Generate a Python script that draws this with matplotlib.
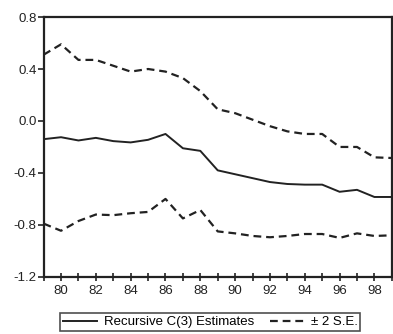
import matplotlib
matplotlib.use('Agg')
import matplotlib.pyplot as plt
from matplotlib.ticker import MultipleLocator, FixedLocator

plt.rcParams['font.family'] = ['Liberation Sans', 'DejaVu Sans']

# 年份 (19xx)
years = list(range(79, 100))
# 递归估计值
coef = [-0.14, -0.125, -0.15, -0.13, -0.155, -0.165, -0.145, -0.10, -0.21, -0.23,
        -0.38, -0.41, -0.44, -0.47, -0.485, -0.49, -0.49, -0.545, -0.53, -0.585, -0.585]
# 上界 +2 S.E.
upper = [0.51, 0.59, 0.47, 0.47, 0.425, 0.38, 0.40, 0.38, 0.33, 0.23,
         0.09, 0.06, 0.01, -0.04, -0.08, -0.10, -0.10, -0.20, -0.20, -0.28, -0.285]
# 下界 -2 S.E.
lower = [-0.79, -0.845, -0.77, -0.72, -0.725, -0.71, -0.70, -0.60, -0.75, -0.685,
         -0.85, -0.865, -0.885, -0.895, -0.885, -0.87, -0.87, -0.90, -0.865, -0.885, -0.88]

fig = plt.figure(figsize=(3.93, 3.34), dpi=100)
ax = fig.add_axes([0.111, 0.171, 0.886, 0.778])

ln1, = ax.plot(years, coef, color='#222222', lw=1.4, label='Recursive C(3) Estimates')
ln2, = ax.plot(years, upper, color='#222222', lw=1.6, dashes=(3.5, 2.2), label='± 2 S.E.')
ax.plot(years, lower, color='#222222', lw=1.6, dashes=(3.5, 2.2))

ax.set_xlim(79, 99)
ax.set_ylim(-1.2, 0.8)
ax.yaxis.set_major_locator(FixedLocator([-1.2, -0.8, -0.4, 0.0, 0.4, 0.8]))
ax.set_yticklabels(['-1.2', '-0.8', '-0.4', '0.0', '0.4', '0.8'])
ax.xaxis.set_major_locator(FixedLocator(list(range(80, 99, 2))))
ax.xaxis.set_minor_locator(MultipleLocator(1))

for s in ax.spines.values():
    s.set_linewidth(1.6)
    s.set_color('#222222')
ax.tick_params(axis='y', direction='out', length=4, width=1.2, labelsize=9.5, pad=1, colors='#222222')
ax.tick_params(axis='x', which='both', direction='inout', length=6, width=1.2, labelsize=9.5, pad=3, colors='#222222')
ax.tick_params(axis='x', which='minor', length=6)

# 图例放在坐标轴下方
leg = fig.legend(handles=[ln1, ln2], loc='upper left', bbox_to_anchor=(0.153, 0.062),
                 ncol=2, fontsize=9.5, frameon=True, fancybox=False, handlelength=2.6,
                 borderpad=0.2, columnspacing=1.2, handletextpad=0.5, borderaxespad=0)
leg.get_frame().set_edgecolor('#222222')
leg.get_frame().set_linewidth(1.2)

plt.savefig('out.png', dpi=100)
